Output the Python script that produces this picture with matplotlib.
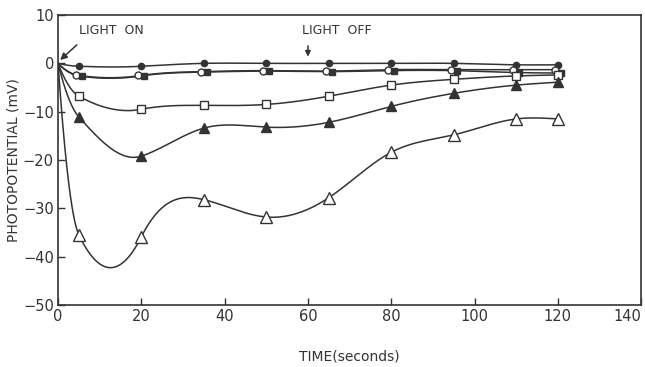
import numpy as np
import matplotlib
matplotlib.use("Agg")
import matplotlib.pyplot as plt
import matplotlib.transforms as mtransforms

# time points (seconds) and photopotential (mV) for each series
time = [0, 5, 20, 35, 50, 65, 80, 95, 110, 120]

filled_circle = [0, -0.6, -0.6, 0, 0, 0, 0, 0, -0.3, -0.3]
open_circle = [0, -2.5, -2.5, -1.7, -1.5, -1.6, -1.3, -1.3, -1.3, -1.3]
filled_square = [0, -2.6, -2.6, -1.8, -1.6, -1.7, -1.5, -1.5, -1.9, -2.0]
open_square = [0, -6.8, -9.5, -8.7, -8.5, -6.8, -4.5, -3.3, -2.6, -2.4]
filled_tri = [0, -11.1, -19.2, -13.4, -13.2, -12.2, -8.9, -6.2, -4.5, -3.9]
open_tri = [0, -35.5, -35.9, -28.2, -31.8, -27.8, -18.4, -14.8, -11.5, -11.5]

xticks = [0, 20, 40, 60, 80, 100, 120, 140]
yticks = [10, 0, -10, -20, -30, -40, -50]

INK = "#333333"


def smooth(x, y, n=60):
    # hermite curve through the points, only for drawing the line
    # slopes: catmull-rom near the start, natural spline after that
    x = np.asarray(x, float)
    y = np.asarray(y, float)
    k = len(x)
    h = np.diff(x)
    A = np.zeros((k, k))
    b = np.zeros(k)
    A[0, 0] = A[-1, -1] = 1
    for i in range(1, k - 1):
        A[i, i - 1] = h[i - 1]
        A[i, i] = 2 * (h[i - 1] + h[i])
        A[i, i + 1] = h[i]
        b[i] = 6 * ((y[i + 1] - y[i]) / h[i] - (y[i] - y[i - 1]) / h[i - 1])
    M = np.linalg.solve(A, b)
    m = np.zeros(k)
    for i in range(k - 1):
        m[i] = (y[i + 1] - y[i]) / h[i] - h[i] * (2 * M[i] + M[i + 1]) / 6
    m[-1] = (y[-1] - y[-2]) / h[-1] + h[-1] * (M[-2] + 2 * M[-1]) / 6
    m[1] = (y[2] - y[0]) / (x[2] - x[0])
    m[0] = 2 * (y[1] - y[0]) / h[0] - m[1]
    xs_all, ys_all = [], []
    for i in range(k - 1):
        s = np.linspace(0, 1, n)
        h00 = 2 * s ** 3 - 3 * s ** 2 + 1
        h10 = s ** 3 - 2 * s ** 2 + s
        h01 = -2 * s ** 3 + 3 * s ** 2
        h11 = s ** 3 - s ** 2
        xs_all.append(x[i] + s * h[i])
        ys_all.append(h00 * y[i] + h10 * h[i] * m[i] + h01 * y[i + 1] + h11 * h[i] * m[i + 1])
    return np.concatenate(xs_all), np.concatenate(ys_all)


fig = plt.figure(figsize=(6.45, 3.67), dpi=100)
ax = fig.add_axes([0.09, 0.169, 0.904, 0.79])

left = mtransforms.offset_copy(ax.transData, fig=fig, x=-3, y=0, units="dots")
right = mtransforms.offset_copy(ax.transData, fig=fig, x=3, y=0, units="dots")

series = [
    (filled_circle, "o", INK, 4.5, ax.transData),
    (open_circle, "o", "white", 5, left),
    (filled_square, "s", INK, 4.5, right),
    (open_square, "s", "white", 5.5, ax.transData),
    (filled_tri, "^", INK, 7, ax.transData),
    (open_tri, "^", "white", 8, ax.transData),
]

for vals, mk, fc, ms, tr in series:
    xs, ys = smooth(time, vals)
    ax.plot(xs, ys, color=INK, lw=1.1, zorder=2)
    ax.plot(time[1:], vals[1:], linestyle="none", marker=mk, markersize=ms,
            markerfacecolor=fc, markeredgecolor=INK, markeredgewidth=1.0,
            transform=tr, zorder=3)

ax.set_xlim(0, 140)
ax.set_ylim(-50, 10)
ax.set_xticks(xticks)
ax.set_yticks(yticks)
ax.tick_params(direction="in", length=5, width=1, color=INK,
               labelsize=10.5, labelcolor=INK, pad=3)
ax.get_xticklabels()[-1].set_horizontalalignment("right")
for s in ax.spines.values():
    s.set_color(INK)
    s.set_linewidth(1.2)

ax.set_xlabel("TIME(seconds)", fontsize=10, color=INK, labelpad=18)
ax.set_ylabel("PHOTOPOTENTIAL (mV)", fontsize=10, color=INK, labelpad=2)

ax.text(5, 6.8, "LIGHT  ON", fontsize=9, color=INK, va="center")
ax.annotate("", xy=(0, 0.3), xytext=(5, 4.2),
            arrowprops=dict(arrowstyle="-|>", color=INK, lw=1.1))
ax.text(58.5, 6.8, "LIGHT  OFF", fontsize=9, color=INK, va="center")
ax.annotate("", xy=(60, 0.8), xytext=(60, 4.2),
            arrowprops=dict(arrowstyle="-|>", color=INK, lw=1.1,
                            mutation_scale=8))

fig.savefig("out.png", dpi=100)
